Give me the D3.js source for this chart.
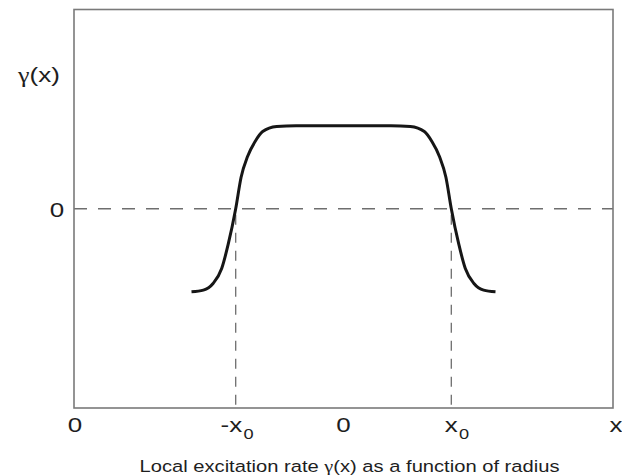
<!DOCTYPE html>
<html>
<head>
<meta charset="utf-8">
<script src="https://cdn.jsdelivr.net/npm/d3@7"></script>
<style>
  html, body { margin: 0; padding: 0; background: #fff; }
  svg { display: block; font-family: "Liberation Sans", Arial, Helvetica, sans-serif; }
  .greek { font-family: "Liberation Serif", "Times New Roman", serif; }
</style>
</head>
<body>
<svg id="chart" width="622" height="475"></svg>
<script>
// Radius in units of x0, excitation rate in units of the plateau height
const radius = [-1.41, -1.30, -1.21, -1.13, -1.07, -1.00, -0.95, -0.89, -0.82, -0.75, -0.62, -0.44,
                 0.00, 0.44, 0.62, 0.75, 0.82, 0.89, 0.95, 1.00, 1.07, 1.13, 1.21, 1.30, 1.41];
const gammaRate = [-1.00, -0.98, -0.90, -0.72, -0.43, 0.00, 0.38, 0.63, 0.81, 0.93, 0.99, 1.00,
                    1.00, 1.00, 0.99, 0.93, 0.81, 0.63, 0.38, 0.00, -0.43, -0.72, -0.90, -0.98, -1.00];

// Tick positions (in units of x0) with their labels; sub = subscript text
const xTickValues = [-2.5, -1, 0, 1, 2.5];
const xTickMain = ["0", "-x", "0", "x", "x"];
const xTickSub = ["", "0", "", "0", ""];
const yTickValues = [0];
const yTickLabels = ["0"];
// Text pieces: [string, isGreek]
const yAxisTitle = [["\u03b3", true], ["(x)", false]];
const caption = [["Local excitation rate ", false], ["\u03b3", true], ["(x) as a function of radius", false]];

const svg = d3.select("#chart");
const frameLeft = 74, frameRight = 613, frameTop = 9.5, frameBottom = 408;

const x = d3.scaleLinear().domain([-2.5, 2.5]).range([frameLeft, frameRight]);
const y = d3.scaleLinear().domain([-2.4, 2.4]).range([frameBottom, frameTop]);

const textColor = "#1e1e1e";
const sx = 1.3;   // horizontal stretch of the label lettering

// Dashed zero line
svg.append("line")
  .attr("x1", x(-2.5)).attr("x2", x(2.5))
  .attr("y1", y(0)).attr("y2", y(0))
  .attr("stroke", "#6e6e6e").attr("stroke-width", 1.3)
  .attr("stroke-dasharray", "13,11");

// Dashed drop lines at the zero crossings ±x0
svg.selectAll("line.drop")
  .data([-1, 1])
  .join("line")
  .attr("class", "drop")
  .attr("x1", d => x(d)).attr("x2", d => x(d))
  .attr("y1", y(0) + 6).attr("y2", frameBottom)
  .attr("stroke", "#6e6e6e").attr("stroke-width", 1.3)
  .attr("stroke-dasharray", "10,8");

// Plot frame
svg.append("rect")
  .attr("x", frameLeft).attr("y", frameTop)
  .attr("width", frameRight - frameLeft).attr("height", frameBottom - frameTop)
  .attr("fill", "none").attr("stroke", "#7a7a7a").attr("stroke-width", 1.6);

// Excitation-rate curve
const points = radius.map((r, i) => [r, gammaRate[i]]);
const line = d3.line()
  .x(d => x(d[0]))
  .y(d => y(d[1]))
  .curve(d3.curveMonotoneX);
svg.append("path")
  .datum(points)
  .attr("d", line)
  .attr("fill", "none")
  .attr("stroke", "#161616")
  .attr("stroke-width", 3)
  .attr("stroke-linejoin", "round")
  .attr("stroke-linecap", "butt");

// X tick labels, with subscripts where needed
const xt = svg.selectAll("g.xtick")
  .data(xTickValues.map((v, i) => ({ v, main: xTickMain[i], sub: xTickSub[i] })))
  .join("g")
  .attr("class", "xtick")
  .attr("transform", d => `translate(${x(d.v) + (d.v === 2.5 ? 3 : d.v === -2.5 ? 1 : 0)},431.5) scale(${sx},1)`);

xt.append("text")
  .attr("x", d => d.sub ? 5 : 0)
  .attr("text-anchor", d => d.sub ? "end" : "middle")
  .attr("font-size", 20)
  .attr("fill", textColor)
  .text(d => d.main);

xt.filter(d => d.sub)
  .append("text")
  .attr("x", 6)
  .attr("y", 7)
  .attr("font-size", 14)
  .attr("fill", textColor)
  .text(d => d.sub);

// Y tick label
svg.selectAll("g.ytick")
  .data(yTickValues.map((v, i) => ({ v, label: yTickLabels[i] })))
  .join("g")
  .attr("class", "ytick")
  .attr("transform", d => `translate(57,${y(d.v) + 8}) scale(${sx},1)`)
  .append("text")
  .attr("text-anchor", "middle")
  .attr("font-size", 20)
  .attr("fill", textColor)
  .text(d => d.label);

function richText(g, pieces) {
  const t = g.append("text");
  t.selectAll("tspan")
    .data(pieces)
    .join("tspan")
    .attr("class", d => d[1] ? "greek" : null)
    .text(d => d[0]);
  return t;
}

// Y axis title
richText(svg.append("g").attr("transform", `translate(39,82) scale(${sx},1)`), yAxisTitle)
  .attr("text-anchor", "middle")
  .attr("font-size", 20)
  .attr("fill", textColor);

// Caption
richText(svg.append("g").attr("transform", "translate(349.5,472) scale(1.2,1)"), caption)
  .attr("text-anchor", "middle")
  .attr("font-size", 16.8)
  .attr("fill", textColor);
</script>
</body>
</html>
